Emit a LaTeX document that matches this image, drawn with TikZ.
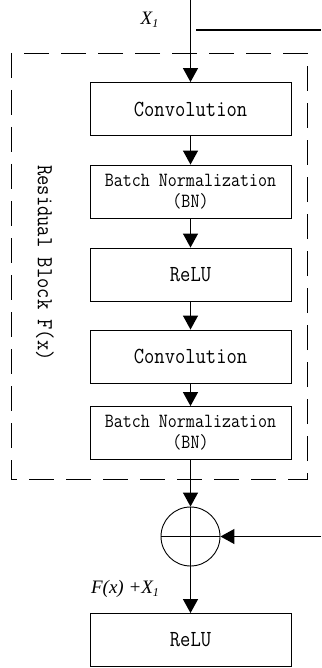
\documentclass[tikz,border=0pt]{standalone}
\usepackage{graphicx}
\usepackage{fontspec}
\newfontfamily\labelfont{Liberation Serif}
\usetikzlibrary{arrows.meta}
% slightly taller monospaced lettering
\newcommand\tallword[1]{\scalebox{1}[1.15]{#1}}
\begin{document}
\begin{tikzpicture}[x=1pt,y=-1pt,
  block/.style={draw, line width=0.9pt, minimum width=201pt, minimum height=53pt,
    inner sep=0pt, align=center, font=\fontsize{20}{20}\selectfont\ttfamily},
  bnfont/.style={font=\fontsize{17.5}{21}\selectfont\ttfamily},
  flow/.style={line width=1.3pt, -{Triangle[width=15pt,length=14pt]}},
  link/.style={line width=1.3pt},
  lbl/.style={font=\fontsize{19}{19}\selectfont\labelfont\itshape, inner sep=0pt}]
\useasboundingbox (0,0) rectangle (321,668);

% residual block frame
\draw[line width=0.9pt, dash pattern=on 25pt off 12pt] (11,53) rectangle (307,479);
\node[rotate=-90, font=\fontsize{20}{20}\selectfont\ttfamily, inner sep=0pt] (rblabel) at (45,263) {\tallword{Residual Block F(x)}};

% layers
\node[block] (conv1) at (190.5,109) {\tallword{Convolution}};
\node[block, bnfont] (bn1) at (190.5,191.5) {\tallword{Batch Normalization}\\\tallword{(BN)}};
\node[block] (relu1) at (190.5,274.5) {\tallword{ReLU}};
\node[block] (conv2) at (190.5,356.5) {\tallword{Convolution}};
\node[block, bnfont] (bn2) at (190.5,433) {\tallword{Batch Normalization}\\\tallword{(BN)}};
\node[draw, circle, line width=0.9pt, minimum size=59pt, inner sep=0pt] (sum) at (190.5,536.5) {};
\draw[line width=0.9pt] (sum.north) -- (sum.south) (sum.west) -- (sum.east);
\node[block] (relu2) at (190.5,640) {\tallword{ReLU}};

% inputs and shortcut ends
\coordinate (in) at (190.5,0);
\coordinate (skipL) at (196,30);
\coordinate (skipR) at (321,30);
\coordinate (sumin) at (321,536.5);

% connectors
\draw[flow] (in) -- (conv1);
\draw[link] (skipL) -- (skipR);
\draw[flow] (conv1) -- (bn1);
\draw[flow] (bn1) -- (relu1);
\draw[flow] (relu1) -- (conv2);
\draw[flow] (conv2) -- (bn2);
\draw[flow] (bn2) -- (sum);
\draw[flow] (sumin) -- (sum);
\draw[flow] (sum) -- (relu2);

% labels
\node[lbl] (x1) at (149.5,20) {X\raisebox{-3pt}{\fontsize{12}{12}\selectfont 1}};
\node[lbl] (fx) at (125,589) {F(x) +X\raisebox{-3pt}{\fontsize{12}{12}\selectfont 1}};
\end{tikzpicture}
\end{document}
